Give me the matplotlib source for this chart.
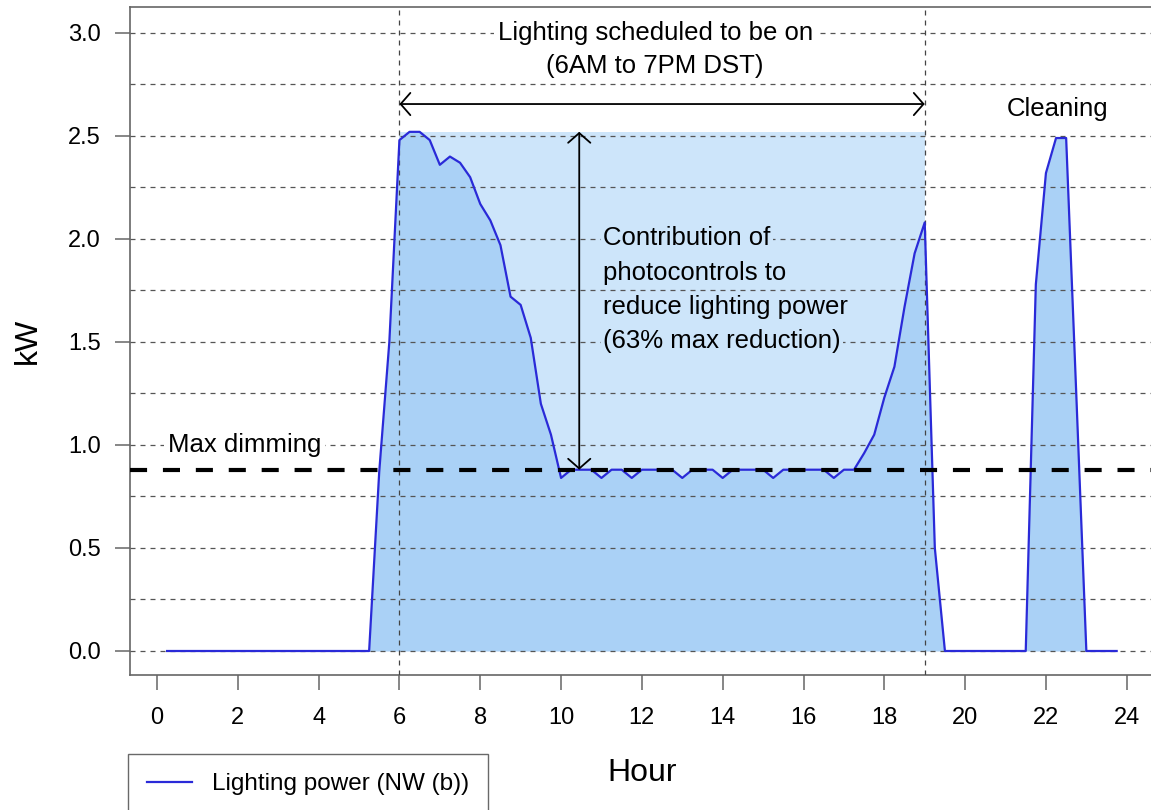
import numpy as np
import matplotlib
matplotlib.use("Agg")
import matplotlib.pyplot as plt
from matplotlib.patches import Rectangle
from matplotlib.lines import Line2D

plt.rcParams['font.family'] = ['Liberation Sans', 'DejaVu Sans']

# ---- data ----
hours = np.arange(0.25, 24.0, 0.25)  # 15-minute sample times
kw = [0.00] * 21 + [
    0.87, 1.50, 2.48, 2.52, 2.52, 2.48, 2.36, 2.40, 2.37, 2.30,
    2.17, 2.09, 1.97, 1.72, 1.68, 1.52, 1.20, 1.05, 0.84, 0.88,
    0.88, 0.88, 0.84, 0.88, 0.88, 0.84, 0.88, 0.88, 0.88, 0.88,
    0.84, 0.88, 0.88, 0.88, 0.84, 0.88, 0.88, 0.88, 0.88, 0.84,
    0.88, 0.88, 0.88, 0.88, 0.88, 0.84, 0.88, 0.88, 0.96, 1.05,
    1.23, 1.38, 1.67, 1.93, 2.08, 0.50, 0.00,
] + [0.00] * 8 + [1.78, 2.32, 2.49, 2.49, 1.25, 0.00] + [0.00] * 3
kw = np.array(kw)

sched_start, sched_end = 6, 19
max_dimming = 0.88
rect_top = kw.max()
arrow_x = 10.45
sched_arrow_y = 2.655

x_ticks = list(range(0, 25, 2))
y_ticks = [0.0, 0.5, 1.0, 1.5, 2.0, 2.5, 3.0]
y_grid = [0.0, 0.25, 0.5, 0.75, 1.0, 1.25, 1.5, 1.75, 2.0, 2.25, 2.5, 2.75, 3.0]

line_color = '#2a2ad8'
fill_color = '#aad1f6'
rect_color = '#cde5fa'
grid_color = '#555555'
spine_color = '#666666'

W, H = 1151, 810
fig = plt.figure(figsize=(W / 100, H / 100), dpi=100)
ax = fig.add_axes([130 / W, 1 - 675 / H, 1 - 130 / W, (675 - 7) / H])
ax.set_xlim(-0.668, 24.6)
ax.set_ylim(-0.1165, 3.126)

# shaded schedule region
ax.add_patch(Rectangle((sched_start, 0), sched_end - sched_start, rect_top,
                       facecolor=rect_color, edgecolor='none', zorder=1))
# area under curve
ax.fill_between(hours, kw, 0, color=fill_color, linewidth=0, zorder=2)

# grid
for g in y_grid:
    ax.axhline(g, color=grid_color, lw=0.9, ls=(0, (4, 4)), zorder=3)
for v in (sched_start, sched_end):
    ax.axvline(v, color='#444444', lw=0.9, ls=(0, (4, 4)), zorder=3)

# curve
ax.plot(hours, kw, color=line_color, lw=1.6, zorder=4)

# max dimming
ax.axhline(max_dimming, color='black', lw=3, ls=(0, (4.1, 3.8)), zorder=5)

# arrows
ax.annotate('', xy=(sched_end, sched_arrow_y), xytext=(sched_start, sched_arrow_y),
            arrowprops=dict(arrowstyle='<->,head_length=0.7,head_width=0.8',
                            lw=1.3, color='black', shrinkA=0, shrinkB=0), zorder=6)
ax.annotate('', xy=(arrow_x, rect_top), xytext=(arrow_x, max_dimming),
            arrowprops=dict(arrowstyle='<->,head_length=0.7,head_width=0.8',
                            lw=1.3, color='black', shrinkA=0, shrinkB=0), zorder=6)

# texts
fs_ann = 18.5
ax.text(12.33, 3.0, 'Lighting scheduled to be on', ha='center', va='center',
        fontsize=fs_ann, zorder=7,
        bbox=dict(boxstyle='square,pad=0.15', facecolor='white', edgecolor='none'))
ax.text(12.33, 2.838, '(6AM to 7PM DST)', ha='center', va='center',
        fontsize=fs_ann, zorder=7)
ax.text(22.28, 2.63, 'Cleaning', ha='center', va='center', fontsize=fs_ann, zorder=7)
ax.text(0.27, 1.0, 'Max dimming', ha='left', va='center', fontsize=fs_ann, zorder=7,
        bbox=dict(boxstyle='square,pad=0.15', facecolor='white', edgecolor='none'))
contrib_lines = ['Contribution of', 'photocontrols to', 'reduce lighting power', '(63% max reduction)']
contrib_y = [2.005, 1.837, 1.67, 1.505]
for t, yy in zip(contrib_lines, contrib_y):
    ax.text(11.04, yy, t, ha='left', va='center', fontsize=fs_ann, zorder=7,
            bbox=dict(boxstyle='square,pad=0.1', facecolor=rect_color, edgecolor='none'))

# axes styling
for s in ('left', 'top', 'bottom'):
    ax.spines[s].set_color(spine_color)
    ax.spines[s].set_linewidth(1.2)
ax.spines['right'].set_visible(False)
ax.set_xticks(x_ticks)
ax.set_yticks(y_ticks)
ax.set_yticklabels([f'{v:.1f}' for v in y_ticks])
ax.tick_params(axis='x', length=11, width=1.1, color=spine_color, pad=12, labelsize=17)
ax.tick_params(axis='y', length=11, width=1.1, color=spine_color, pad=10, labelsize=17)

fig.text(28 / W, 1 - 341 / H, 'kW', rotation=90, ha='center', va='center', fontsize=23)
fig.text(642 / W, 1 - 773 / H, 'Hour', ha='center', va='center', fontsize=23)

handle = Line2D([], [], color=line_color, lw=1.6)
leg = ax.legend([handle], ['Lighting power (NW (b))'], loc='upper left',
                bbox_to_anchor=(128 / W, 1 - 754 / H), bbox_transform=fig.transFigure,
                borderaxespad=0, fontsize=17.5, frameon=True, fancybox=False,
                handlelength=1.85, handletextpad=0.8, borderpad=0.8)
leg.get_frame().set_edgecolor('#444444')
leg.get_frame().set_linewidth(1.0)

fig.savefig('out.png', dpi=100)
